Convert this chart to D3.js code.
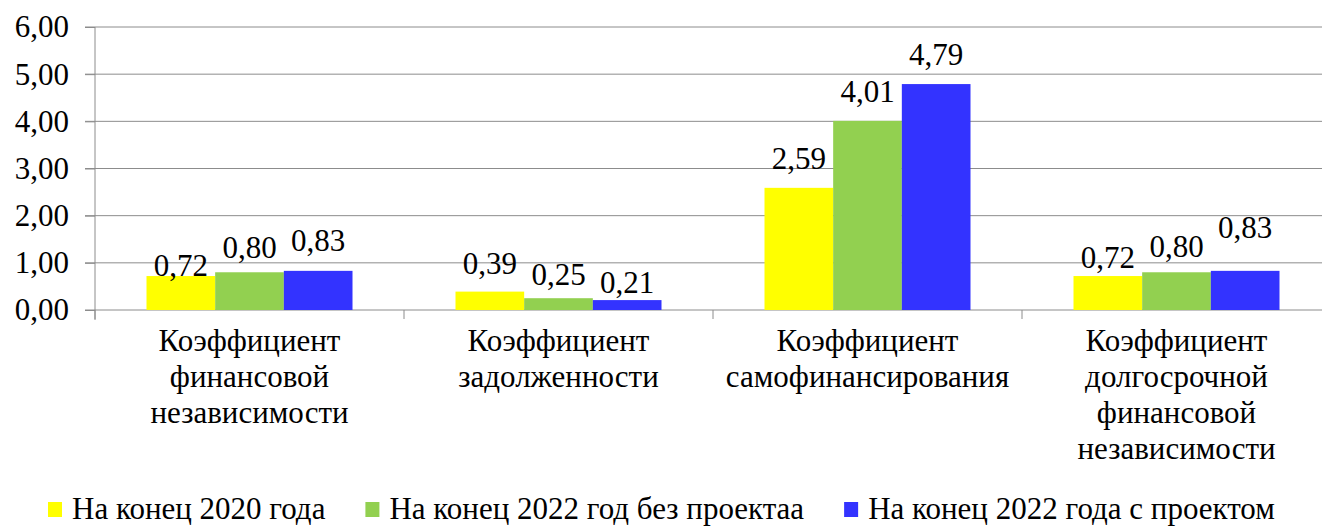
<!DOCTYPE html>
<html>
<head>
<meta charset="utf-8">
<script src="https://cdn.jsdelivr.net/npm/d3@7"></script>
<style>
  body { margin: 0; font-family: serif; }
  svg { font-family: serif; }
</style>
</head>
<body>
<div id="chart"></div>
<script>
// categories (one entry per line of the label)
const categories = [
    ["Коэффициент", "финансовой", "независимости"],
    ["Коэффициент", "задолженности"],
    ["Коэффициент", "самофинансирования"],
    ["Коэффициент", "долгосрочной", "финансовой", "независимости"]
];
const seriesNames = ["На конец 2020 года", "На конец 2022 год без проектаа", "На конец 2022 года с проектом"];
const values2020 = [0.72, 0.39, 2.59, 0.72];
const values2022noProject = [0.80, 0.25, 4.01, 0.80];
const values2022project = [0.83, 0.21, 4.79, 0.83];
const yTicks = [0, 1, 2, 3, 4, 5, 6];

const colors = ["#FFFF00", "#92D050", "#3333FF"];
// label lift above bar top (labels were moved by hand in the original)
const labelLift = [
    [0, 14, 20],
    [18, 13, 7],
    [19, 19, 19],
    [8, 15, 33]
];

const W = 1322, H = 527;
const margin = { top: 27, left: 95, right: -9, bottom: 217 };
const fontSize = 31;
const FONT = "serif";

const catKeys = categories.map(c => c.join(" "));
const allSeries = [values2020, values2022noProject, values2022project];
const table = catKeys.map((k, i) => ({ key: k, i: i, vals: allSeries.map(s => s[i]) }));

const svg = d3.select("#chart").append("svg")
    .attr("width", W)
    .attr("height", H)
    .attr("font-family", FONT);

const x0 = d3.scaleBand()
    .domain(catKeys)
    .range([margin.left, W - margin.right])
    .paddingInner(1 / 3)
    .paddingOuter(1 / 6);
const x1 = d3.scaleBand()
    .domain(d3.range(seriesNames.length))
    .range([0, x0.bandwidth()]);
const y = d3.scaleLinear()
    .domain([0, 6])
    .range([H - margin.bottom, margin.top]);

const fmt = v => d3.format(".2f")(v).replace(".", ",");

// gridlines
svg.append("g")
    .selectAll("line")
    .data(yTicks)
    .join("line")
    .attr("x1", margin.left - 10).attr("x2", W - margin.right)
    .attr("y1", d => y(d)).attr("y2", d => y(d))
    .attr("stroke", "#8c8c8c")
    .attr("stroke-width", 1);

// y axis
const yAxis = svg.append("g")
    .attr("transform", `translate(${margin.left},0)`)
    .call(d3.axisLeft(y).tickValues(yTicks).tickFormat(fmt).tickSize(10).tickPadding(16))
    .attr("font-family", FONT)
    .attr("font-size", fontSize);
yAxis.select(".domain").attr("stroke", "#8c8c8c").attr("d", `M0,${y(0) + 10}V${y(6)}`);
yAxis.selectAll(".tick line").attr("stroke", "#8c8c8c");
yAxis.selectAll(".tick text")
    .attr("fill", "#000")
    .attr("font-family", FONT)
    .attr("font-size", fontSize);

// category tick marks at band boundaries
const step = x0.step();
const bounds = catKeys.map(k => x0(k) - (step - x0.bandwidth()) / 2).concat([W - margin.right]);
svg.append("g")
    .selectAll("line")
    .data(bounds)
    .join("line")
    .attr("x1", d => d).attr("x2", d => d)
    .attr("y1", y(0)).attr("y2", y(0) + 9)
    .attr("stroke", "#8c8c8c");

// bars
const groups = svg.append("g")
    .selectAll("g")
    .data(table)
    .join("g")
    .attr("transform", d => `translate(${x0(d.key)},0)`);

groups.selectAll("rect")
    .data(d => d.vals.map((v, j) => ({ v, j, i: d.i })))
    .join("rect")
    .attr("x", d => x1(d.j))
    .attr("width", x1.bandwidth())
    .attr("y", d => y(d.v))
    .attr("height", d => y(0) - y(d.v))
    .attr("fill", d => colors[d.j]);

groups.selectAll("text.lbl")
    .data(d => d.vals.map((v, j) => ({ v, j, i: d.i })))
    .join("text")
    .attr("class", "lbl")
    .attr("x", d => x1(d.j) + x1.bandwidth() / 2)
    .attr("y", d => y(d.v) - labelLift[d.i][d.j])
    .attr("text-anchor", "middle")
    .attr("font-family", FONT)
    .attr("font-size", fontSize)
    .text(d => fmt(d.v));

// category labels
const catLabels = svg.append("g")
    .selectAll("text")
    .data(table)
    .join("text")
    .attr("x", d => x0(d.key) + x0.bandwidth() / 2)
    .attr("y", y(0) + 41)
    .attr("text-anchor", "middle")
    .attr("font-family", FONT)
    .attr("font-size", fontSize);
catLabels.selectAll("tspan")
    .data(d => categories[d.i])
    .join("tspan")
    .attr("x", function() { return d3.select(this.parentNode).attr("x"); })
    .attr("dy", (d, i) => i === 0 ? 0 : 36)
    .text(d => d);

// legend
const legend = svg.append("g");
let lx = 48;
seriesNames.forEach((name, j) => {
    legend.append("rect")
        .attr("x", lx).attr("y", 502)
        .attr("width", 14).attr("height", 15)
        .attr("fill", colors[j]);
    const t = legend.append("text")
        .attr("x", lx + 24).attr("y", 519)
        .attr("font-family", FONT)
        .attr("font-size", fontSize)
        .text(name);
    lx += 24 + t.node().getComputedTextLength() + 40;
});
</script>
</body>
</html>
